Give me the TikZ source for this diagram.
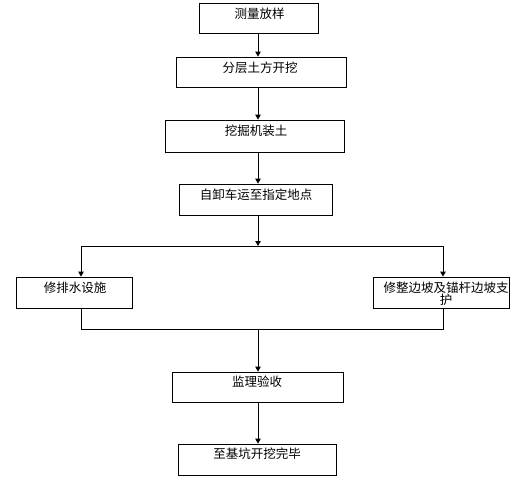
\documentclass[tikz,border=0pt]{standalone}
\usepackage{fontspec}
\setmainfont{Noto Sans CJK SC}
\usetikzlibrary{arrows.meta}
\tikzset{
  box/.style={draw=black, line width=0.8pt, inner sep=0pt, minimum width=#1},
  txt/.style={font=\fontsize{12.5}{12}\selectfont, align=center, inner sep=0pt},
  arr/.style={draw=black, line width=0.8pt, -{Triangle[width=5.5pt,length=5pt]}},
  ln/.style={draw=black, line width=0.8pt},
}
\begin{document}
\begin{tikzpicture}[x=1pt,y=-1pt]
\useasboundingbox (0,0) rectangle (527,482);
\fill[white] (0,0) rectangle (527,482);
\node[box=119pt, minimum height=30pt] (b1) at (258.5,18) {};
\node[box=170pt, minimum height=30pt] (b2) at (261,72) {};
\node[box=179pt, minimum height=32pt] (b3) at (254.5,136) {};
\node[box=153pt, minimum height=31pt] (b4) at (255.5,199.5) {};
\node[box=116pt, minimum height=31pt] (bl) at (74,292.5) {};
\node[box=136pt, minimum height=31pt] (br) at (441,292.5) {};
\node[box=171pt, minimum height=30pt] (b5) at (257.5,387) {};
\node[box=158pt, minimum height=31pt] (b6) at (257,459.5) {};
\node[txt] (t1) at (259.5,14) {测量放样};
\node[txt] (t2) at (260,68) {分层土方开挖};
\node[txt] (t3) at (256,131) {挖掘机装土};
\node[txt] (t4) at (256,194.5) {自卸车运至指定地点};
\node[txt] (tl) at (75,288) {修排水设施};
\node[txt] (tr) at (446,294) {修整边坡及锚杆边坡支\\护};
\node[txt] (t5) at (257,382) {监理验收};
\node[txt] (t6) at (257,454) {至基坑开挖完毕};
\coordinate (c) at (258,0);
\coordinate (sp) at (258,246);
\coordinate (sl) at (81,246);
\coordinate (sr) at (443,246);
\coordinate (jl) at (81,329);
\coordinate (jr) at (443,329);
\coordinate (jc) at (258,329);
\draw[arr] (b1.south -| c) -- (b2.north -| c);
\draw[arr] (b2.south -| c) -- (b3.north -| c);
\draw[arr] (b3.south -| c) -- (b4.north -| c);
\draw[arr] (b4.south -| c) -- (sp);
\draw[ln] (sl) -- (sr);
\draw[arr] (sl) -- (bl.north -| sl);
\draw[arr] (sr) -- (br.north -| sr);
\draw[ln] (bl.south -| jl) -- (jl) -- (jr) -- (br.south -| jr);
\draw[arr] (jc) -- (b5.north -| c);
\draw[arr] (b5.south -| c) -- (b6.north -| c);
\end{tikzpicture}
\end{document}
